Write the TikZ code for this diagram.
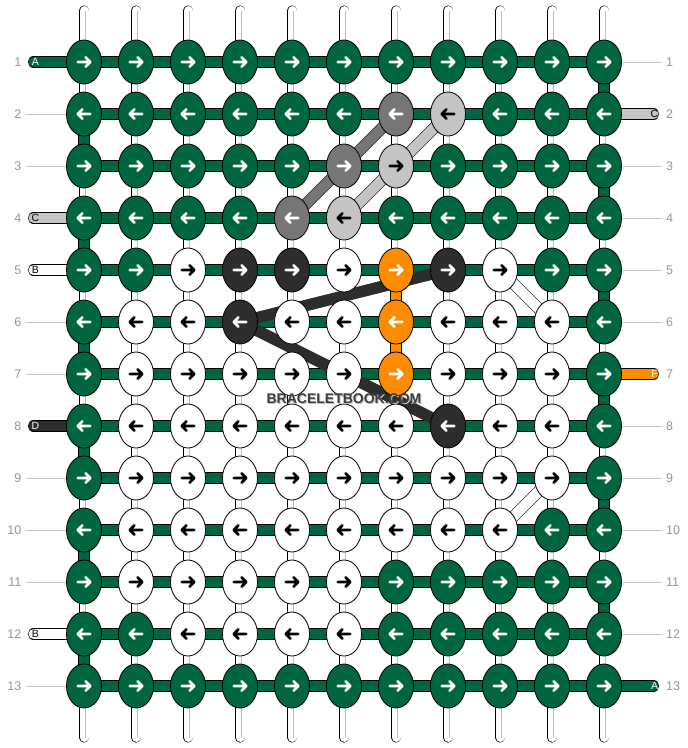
\documentclass[tikz,border=0pt]{standalone}
\usepackage{fontspec}
\setmainfont{Liberation Sans}
\usetikzlibrary{shapes.geometric}
\definecolor{kG}{RGB}{0,102,64}
\definecolor{kW}{RGB}{255,255,255}
\definecolor{kM}{RGB}{118,118,118}
\definecolor{kL}{RGB}{196,196,196}
\definecolor{kK}{RGB}{45,45,45}
\definecolor{kO}{RGB}{255,140,0}
\colorlet{aG}{white}\colorlet{aW}{black}\colorlet{aM}{white}
\colorlet{aL}{black}\colorlet{aK}{white}\colorlet{aO}{white}
\definecolor{numgray}{RGB}{150,150,150}
\definecolor{guidegray}{RGB}{195,195,195}
\definecolor{wmgray}{RGB}{60,60,60}
\definecolor{wmshadow}{RGB}{190,190,190}
\pgfdeclarelayer{back}\pgfdeclarelayer{mid}\pgfsetlayers{back,mid,main}
\begin{document}
\begin{tikzpicture}[x=1pt,y=-1pt,
 knot/.style={ellipse, draw=black, line width=0.8pt, minimum width=35pt, minimum height=44pt, inner sep=0pt},
 arr/.style={line width=2.6pt, line cap=round, line join=round},
 strand/.style={draw=black, line width=0.6pt, double=white, double distance=9pt, line cap=round},
 inner/.style={draw=black!25, line width=0.8pt},
 hconn/.style={draw=black, line width=0.6pt, double=#1, double distance=10pt},
 tabband/.style={draw=black, line width=0.6pt, double=#1, double distance=10pt, line cap=round},
 band/.style={draw=black, line width=0.5pt, double=#1, double distance=10.5pt},
 guide/.style={draw=guidegray, line width=0.8pt},
 num/.style={text=numgray, font=\fontsize{12.5}{14}\selectfont, inner sep=0pt},
 tabtxt/.style={font=\fontsize{10.5}{12}\selectfont, inner sep=0pt},
]
\useasboundingbox (0,0) rectangle (688,748);
% knots
\foreach \rowlist [count=\r] in {
 {G,G,G,G,G,G,G,G,G,G,G},
 {G,G,G,G,G,G,M,L,G,G,G},
 {G,G,G,G,G,M,L,G,G,G,G},
 {G,G,G,G,M,L,G,G,G,G,G},
 {G,G,W,K,K,W,O,K,W,G,G},
 {G,W,W,K,W,W,O,W,W,W,G},
 {G,W,W,W,W,W,O,W,W,W,G},
 {G,W,W,W,W,W,W,K,W,W,G},
 {G,W,W,W,W,W,W,W,W,W,G},
 {G,W,W,W,W,W,W,W,W,G,G},
 {G,W,W,W,W,W,G,G,G,G,G},
 {G,G,W,W,W,W,G,G,G,G,G},
 {G,G,G,G,G,G,G,G,G,G,G}} {
  \foreach \c [count=\j] in \rowlist {
    \pgfmathsetmacro\X{84+52*(\j-1)}
    \pgfmathsetmacro\Y{62+52*(\r-1)}
    \node[knot, fill=k\c] (k\r-\j) at (\X,\Y) {};
    \ifodd\r\relax\def\dir{1}\else\def\dir{-1}\fi
    \begin{scope}[shift={(\X,\Y)}, xscale=\dir]
      \draw[arr, draw=a\c] (-6.3,0) -- (6.3,0) (1.6,-4.7) -- (6.3,0) -- (1.6,4.7);
    \end{scope}
  }
}
% vertical strands
\begin{pgfonlayer}{back}
\foreach \j in {1,...,11} {
  \pgfmathsetmacro\X{84+52*(\j-1)}
  \coordinate (top\j) at (\X,10.5);
  \coordinate (bot\j) at (\X,737.5);
  \draw[strand] (top\j) -- (bot\j);
  \draw[inner] ([xshift=1.8pt]top\j) -- ([xshift=1.8pt]bot\j);
}
\end{pgfonlayer}
\begin{pgfonlayer}{mid}
% horizontal connectors
\foreach \r in {1,...,13} { \draw[hconn=kG] (k\r-1.center) -- (k\r-11.center); }
% turn-around segments
\foreach \a/\b in {1/2,3/4,5/6,7/8,9/10,11/12} { \draw[hconn=kG] (k\a-11.center) -- (k\b-11.center); }
\foreach \a/\b in {2/3,4/5,6/7,8/9,10/11,12/13} { \draw[hconn=kG] (k\a-1.center) -- (k\b-1.center); }
\draw[hconn=kO] (k5-7.center) -- (k7-7.center);
% diagonals
\draw[band=kM] (k4-5.center) -- (k3-6.center) -- (k2-7.center);
\draw[band=kL] (k4-6.center) -- (k3-7.center) -- (k2-8.center);
\draw[band=kK, draw=kK] (k6-4.center) -- (k5-8.center);
\draw[band=kK, draw=kK] (k6-4.center) -- (k8-8.center);
\draw[band=kW] (k5-9.center) -- (k6-10.center);
\draw[band=kW] (k10-9.center) -- (k9-10.center);
% tabs
\foreach \r/\col/\txt/\tc in {1/kG/A/white, 4/kL/C/black, 5/kW/B/black, 8/kK/D/white, 12/kW/B/black} {
  \pgfmathsetmacro\Y{62+52*(\r-1)}
  \coordinate (tl\r) at (33.5,\Y);
  \draw[tabband=\col] (tl\r) -- (k\r-1.center);
  \node[tabtxt, text=\tc] (tlt\r) at (35.5,\Y) {\txt};
}
\foreach \r/\col/\txt/\tc in {2/kL/C/black, 7/kO/F/white, 13/kG/A/white} {
  \pgfmathsetmacro\Y{62+52*(\r-1)}
  \coordinate (tr\r) at (653.5,\Y);
  \draw[tabband=\col] (k\r-11.center) -- (tr\r);
  \node[tabtxt, text=\tc] (trt\r) at (654.5,\Y) {\txt};
}
\end{pgfonlayer}
% guides
\foreach \r in {2,3,6,7,9,10,11,13} {
  \pgfmathsetmacro\Y{62+52*(\r-1)}
  \coordinate (gl\r) at (26,\Y);
  \draw[guide] (gl\r) -- (k\r-1);
}
\foreach \r in {1,3,4,5,6,8,9,10,11,12} {
  \pgfmathsetmacro\Y{62+52*(\r-1)}
  \coordinate (gr\r) at (662,\Y);
  \draw[guide] (k\r-11) -- (gr\r);
}
% row numbers
\foreach \r in {1,...,13} {
  \pgfmathsetmacro\Y{62+52*(\r-1)}
  \node[num, anchor=east] (nl\r) at (21.5,\Y) {\r};
  \node[num, anchor=west] (nr\r) at (666,\Y) {\r};
}
% watermark
\node[text=wmshadow, font=\bfseries\fontsize{14}{16}\selectfont, inner sep=0pt] (wms) at (345,400) {BRACELETBOOK.COM};
\node[text=wmgray, font=\bfseries\fontsize{14}{16}\selectfont, inner sep=0pt] (wm) at (344,399) {BRACELETBOOK.COM};
\end{tikzpicture}
\end{document}
